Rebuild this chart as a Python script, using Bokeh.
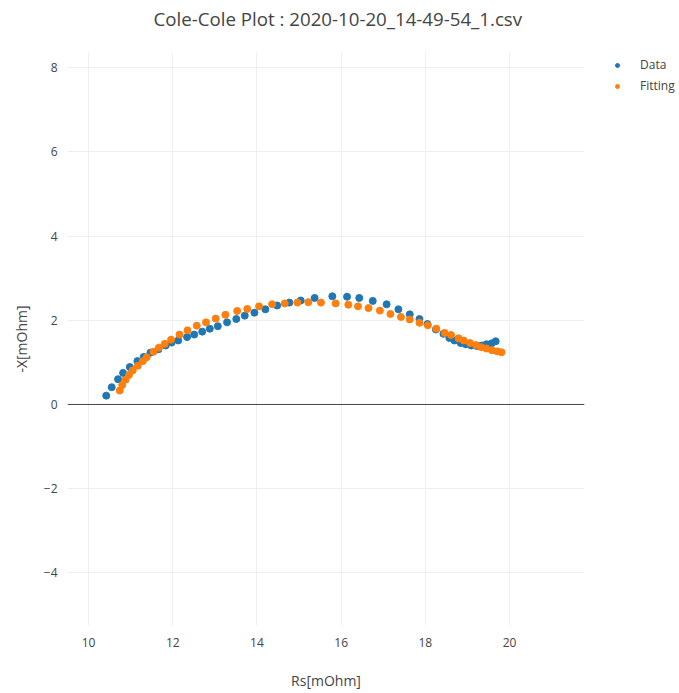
from bokeh.plotting import figure
from bokeh.models import Range1d, FixedTicker, Legend, LegendItem, Span, Title
from bokeh.embed import file_html
from bokeh.resources import INLINE

title_text = "Cole-Cole Plot : 2020-10-20_14-49-54_1.csv"
x_label = "Rs[mOhm]"
y_label = "-X[mOhm]"

x_data = [10.42,10.55,10.70,10.82,10.98,11.16,11.31,11.47,11.66,11.83,11.97,12.13,12.34,12.51,12.70,12.88,
          13.07,13.29,13.51,13.71,13.94,14.20,14.48,14.77,15.04,15.37,15.79,16.14,16.43,16.75,17.08,17.36,
          17.63,17.86,18.05,18.25,18.43,18.57,18.69,18.84,18.96,19.09,19.22,19.34,19.45,19.57,19.67]
y_data = [0.21,0.41,0.60,0.75,0.89,1.03,1.13,1.23,1.31,1.40,1.47,1.52,1.60,1.66,1.73,1.80,
          1.86,1.95,2.03,2.11,2.18,2.26,2.35,2.42,2.47,2.53,2.57,2.56,2.53,2.46,2.38,2.26,
          2.14,2.03,1.91,1.78,1.68,1.58,1.52,1.46,1.43,1.40,1.39,1.40,1.43,1.45,1.50]

x_fit = [10.74,10.80,10.88,10.96,11.05,11.17,11.29,11.38,11.54,11.67,11.81,11.96,12.16,12.35,12.57,12.79,
         13.02,13.25,13.53,13.77,14.05,14.36,14.66,14.96,15.22,15.52,15.87,16.17,16.40,16.65,16.92,17.17,
         17.42,17.63,17.86,18.06,18.26,18.46,18.61,18.79,18.91,19.06,19.20,19.33,19.45,19.58,19.71,19.81]
y_fit = [0.33,0.46,0.59,0.70,0.81,0.92,1.03,1.12,1.25,1.35,1.44,1.54,1.66,1.76,1.87,1.95,
         2.04,2.13,2.22,2.27,2.33,2.38,2.40,2.42,2.43,2.42,2.40,2.37,2.33,2.29,2.23,2.15,
         2.08,2.02,1.94,1.88,1.80,1.70,1.65,1.57,1.52,1.46,1.41,1.36,1.33,1.29,1.26,1.24]

x_ticks = [10, 12, 14, 16, 18, 20]
y_ticks = [-4, -2, 0, 2, 4, 6, 8]

FONT = "Open Sans"
TXT = "#444444"

p = figure(frame_width=517, frame_height=573, output_backend="svg", toolbar_location=None,
           x_range=Range1d(9.5, 21.78), y_range=Range1d(-5.25, 8.36),
           min_border_left=67, min_border_right=95, min_border_top=52, min_border_bottom=68)
p.outline_line_color = None
p.background_fill_color = "white"
p.border_fill_color = "white"
p.title.text = ""

# thin spacer between frame and title
spacer = Title(text=" ", text_font_size="1px", standoff=16)
p.add_layout(spacer, "above")
main_title = Title(text=title_text, align="left", offset=86, text_font=FONT,
                   text_font_size="18.7px", text_color=TXT, text_font_style="normal",
                   standoff=5)
p.add_layout(main_title, "above")

for ax in (p.xaxis[0], p.yaxis[0]):
    ax.axis_line_color = None
    ax.major_tick_line_color = None
    ax.minor_tick_line_color = None
    ax.major_label_text_font = FONT
    ax.major_label_text_font_size = "12px"
    ax.major_label_text_color = TXT
    ax.axis_label_text_font = FONT
    ax.axis_label_text_font_size = "14px"
    ax.axis_label_text_color = TXT
    ax.axis_label_text_font_style = "normal"

p.xaxis[0].ticker = FixedTicker(ticks=x_ticks)
p.yaxis[0].ticker = FixedTicker(ticks=y_ticks)
p.yaxis[0].major_label_overrides = {v: ("\u2212" + str(-v)) for v in y_ticks if v < 0}
p.xaxis[0].axis_label = x_label
p.yaxis[0].axis_label = y_label
p.xaxis[0].major_label_standoff = 6
p.yaxis[0].major_label_standoff = 4
p.xaxis[0].axis_label_standoff = 21
p.yaxis[0].axis_label_standoff = 10

p.xgrid.grid_line_color = "#eeeeee"
p.ygrid.grid_line_color = "#eeeeee"
p.xgrid.grid_line_width = 1
p.ygrid.grid_line_width = 1

zero = Span(location=0, dimension="width", line_color="#444444", line_width=1)
p.add_layout(zero)

r1 = p.scatter(x_data, y_data, size=7, color="#1f77b4", line_color="#1f77b4")
r2 = p.scatter(x_fit, y_fit, size=7, color="#ff7f0e", line_color="#ff7f0e")

legend = Legend(items=[LegendItem(label="Data", renderers=[r1]),
                       LegendItem(label="Fitting", renderers=[r2])],
                location=(28, 531), label_text_font=FONT, label_text_font_size="12px",
                label_text_color=TXT, background_fill_alpha=0, border_line_color=None,
                glyph_width=10, glyph_height=16, spacing=4, label_standoff=18, padding=0,
                margin=0)
p.add_layout(legend, "right")

open("out.html", "w").write(file_html(p, INLINE))
